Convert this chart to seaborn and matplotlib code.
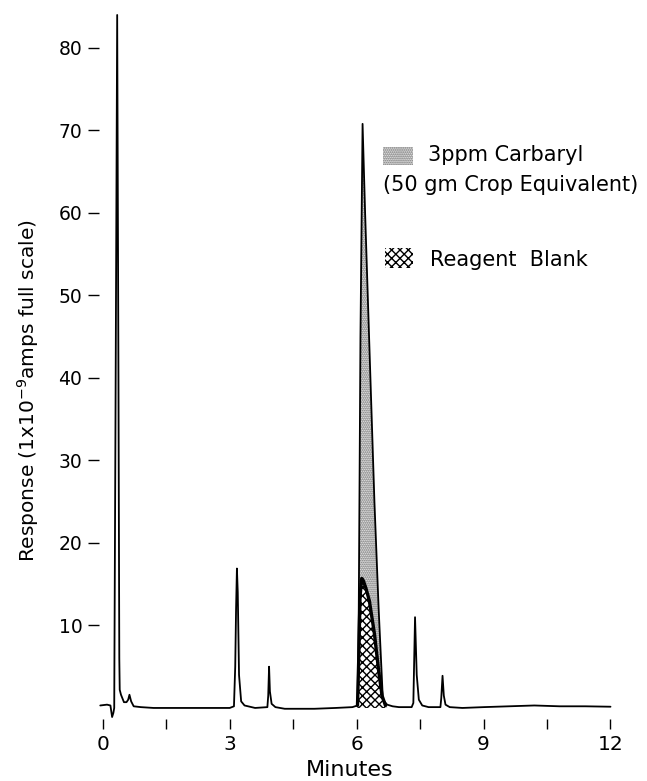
import numpy as np
import matplotlib
matplotlib.use("Agg")
import matplotlib.pyplot as plt
from matplotlib.patches import Rectangle
import seaborn as sns

# ---- data ----
main_time = [-0.06, 0.10, 0.18, 0.22, 0.25, 0.27, 0.30, 0.34, 0.37, 0.39, 0.40, 0.43,
             0.50, 0.56, 0.60, 0.63, 0.67, 0.73, 0.90, 1.20, 1.80, 2.40, 3.00, 3.10,
             3.13, 3.15, 3.17, 3.19, 3.22, 3.27, 3.35, 3.60, 3.89, 3.91, 3.93, 3.95,
             3.99, 4.08, 4.30, 4.60, 5.00, 5.50, 5.90, 6.02, 6.05, 6.09, 6.14, 6.20,
             6.30, 6.42, 6.52, 6.62, 6.72, 6.85, 7.00, 7.30, 7.34, 7.38, 7.42, 7.47,
             7.55, 7.70, 7.98, 8.00, 8.03, 8.06, 8.10, 8.20, 8.50, 9.00, 9.60, 10.20,
             10.80, 11.40, 12.00]
main_resp = [0.3, 0.4, 0.3, -1.1, -0.6, 0.0, 35.0, 84.0, 40.0, 6.0, 2.2, 1.6,
             0.7, 0.7, 1.0, 1.6, 0.8, 0.2, 0.1, 0.0, 0.0, 0.0, 0.0, 0.2,
             5.0, 12.0, 16.9, 14.0, 4.0, 0.8, 0.3, 0.0, 0.1, 1.5, 5.0, 2.0,
             0.5, 0.1, -0.1, -0.1, -0.1, 0.0, 0.1, 0.3, 12.0, 45.0, 70.8, 60.0,
             44.0, 25.0, 12.0, 1.0, 0.4, 0.2, 0.1, 0.1, 0.6, 11.0, 4.0, 1.0,
             0.3, 0.1, 0.1, 1.2, 3.9, 1.5, 0.4, 0.1, 0.0, 0.1, 0.2, 0.3,
             0.2, 0.2, 0.15]

blank_time = [6.02, 6.05, 6.08, 6.12, 6.16, 6.22, 6.30, 6.42, 6.52, 6.60, 6.68]
blank_resp = [0.3, 6.0, 13.5, 15.7, 15.4, 14.5, 13.0, 9.0, 4.5, 1.5, 0.3]

carbaryl_window = (6.00, 6.75)

x_major = [0, 3, 6, 9, 12]
x_minor = [1.5, 4.5, 7.5, 10.5]
y_ticks = [10, 20, 30, 40, 50, 60, 70, 80]

# ---- style ----
sns.set_style("white")
plt.rcParams["font.family"] = ["DejaVu Sans"]
plt.rcParams["mathtext.fontset"] = "dejavusans"
plt.rcParams["hatch.linewidth"] = 1.0
plt.rcParams["text.color"] = "black"

fig = plt.figure(figsize=(6.47, 7.81), dpi=100, facecolor="white")
ax = fig.add_axes([0.136, 0.0798, 0.8272, 0.9116])

t = np.array(main_time)
r = np.array(main_resp)
m = (t >= carbaryl_window[0]) & (t <= carbaryl_window[1])

STIPPLE = "0.35"
# Carbaryl peak stipple
ax.fill_between(t[m], r[m], 0, facecolor="white", edgecolor=STIPPLE,
                hatch="........", linewidth=0, zorder=1)
# Reagent blank crosshatch
ax.fill_between(blank_time, blank_resp, 0, facecolor="white", edgecolor="black",
                hatch="xxxx", linewidth=0, zorder=2)

sns.lineplot(x=main_time, y=main_resp, ax=ax, color="black", lw=1.3,
             estimator=None, sort=False, zorder=3)
sns.lineplot(x=blank_time, y=blank_resp, ax=ax, color="black", lw=2.4,
             estimator=None, sort=False, zorder=4)

for s in ax.spines.values():
    s.set_visible(False)
ax.set_xlim(-0.35, 12.3)
ax.set_ylim(-1.3, 85)

ax.set_xticks(x_major)
ax.set_xticklabels([str(v) for v in x_major], fontsize=14.5)
ax.set_xticks(x_minor, minor=True)
ax.set_yticks(y_ticks)
ax.set_yticklabels([str(v) for v in y_ticks], fontsize=13.5)
ax.tick_params(axis="x", which="both", direction="out", length=7, width=1,
               pad=5, bottom=True, color="black", labelcolor="black")
ax.tick_params(axis="y", direction="in", length=8, width=1, pad=4,
               left=True, color="black", labelcolor="black")
ax.set_xlabel("")
ax.set_ylabel("")

fig.text(0.043, 0.50, "Response (1x10$^{-9}$amps full scale)", rotation=90,
         ha="center", va="center", fontsize=14.5, color="black")
fig.text(0.541, 0.014, "Minutes", ha="center", va="center", fontsize=16, color="black")

# legend (drawn by hand to mimic the original layout)
fig.add_artist(Rectangle((0.592, 0.7887), 0.0464, 0.023, transform=fig.transFigure,
                         facecolor="white", edgecolor=STIPPLE, hatch="........", lw=0))
fig.add_artist(Rectangle((0.595, 0.6569), 0.0433, 0.0256, transform=fig.transFigure,
                         facecolor="white", edgecolor="black", hatch="xxxx", lw=0))
fig.text(0.6615, 0.8015, "3ppm Carbaryl", ha="left", va="center", fontsize=15, color="black")
fig.text(0.592, 0.7631, "(50 gm Crop Equivalent)", ha="left", va="center", fontsize=15, color="black")
fig.text(0.6646, 0.6671, "Reagent  Blank", ha="left", va="center", fontsize=15, color="black")

fig.savefig("out.png", dpi=100, facecolor="white")
